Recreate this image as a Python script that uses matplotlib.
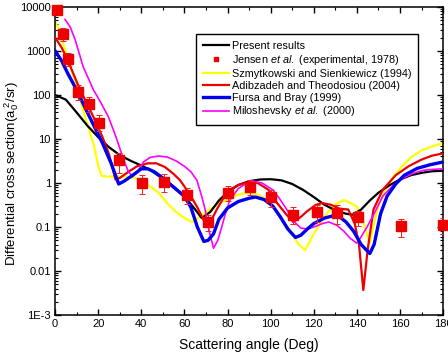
import numpy as np
import matplotlib
matplotlib.use("Agg")
import matplotlib.pyplot as plt
from matplotlib.ticker import LogLocator, NullFormatter, MultipleLocator

plt.rcParams['font.family'] = ['Liberation Sans', 'DejaVu Sans']
plt.rcParams['mathtext.fontset'] = 'custom'
plt.rcParams['mathtext.rm'] = 'Liberation Sans'
plt.rcParams['mathtext.it'] = 'Liberation Sans:italic'

######## data

# Jensen et al. (experimental, 1978)
exp_angle = [0.8, 3.6, 6.2, 10.7, 15.8, 20.4, 29.7, 40.2, 50.3, 61.1, 71.1, 80.4,
             90.5, 100.2, 110.3, 121.4, 130.7, 140.5, 160.4, 180]
exp_dcs = [8600, 2400, 650, 115, 62, 23, 3.3, 1.0, 1.07, 0.54, 0.13, 0.59,
           0.83, 0.49, 0.19, 0.22, 0.21, 0.166, 0.105, 0.11]
exp_err_lo = [0, 700, 200, 40, 20, 8, 1.6, 0.45, 0.45, 0.2, 0.05, 0.2,
              0.3, 0.2, 0.07, 0.09, 0.09, 0.06, 0.045, 0.04]
exp_err_hi = [0, 900, 250, 50, 30, 12, 1.6, 0.55, 0.5, 0.25, 0.06, 0.25,
              0.35, 0.2, 0.09, 0.1, 0.1, 0.07, 0.05, 0.05]

# Present results
present_angle = [0, 5, 10, 15, 20, 25, 30, 35, 40, 44, 50, 55, 60, 65, 68, 72, 76, 80,
                 85, 90, 95, 100, 105, 110, 115, 120, 125, 130, 135, 138, 142, 146,
                 150, 155, 160, 165, 170, 175, 180]
present_dcs = [100, 78, 40, 20, 11, 6.5, 4.3, 3.2, 2.5, 2.0, 1.25, 0.83, 0.5, 0.25,
               0.16, 0.22, 0.4, 0.62, 0.9, 1.1, 1.2, 1.22, 1.15, 0.95, 0.7, 0.48,
               0.32, 0.24, 0.2, 0.19, 0.25, 0.4, 0.6, 0.88, 1.2, 1.5, 1.7, 1.85, 1.9]

# Szmytkowski and Sienkiewicz (1994)
szmyt_angle = [0, 2.5, 5, 7, 10, 13, 16, 18, 20, 21.5, 24, 28, 33, 37, 40, 44, 48, 52,
               56, 60, 63.5, 67, 70, 75, 80, 85, 90, 94, 98, 101, 105, 109, 113, 116,
               118, 120, 123, 126, 130, 134, 137, 140, 143, 146, 148, 150, 153, 157,
               161, 165, 170, 175, 180]
szmyt_dcs = [4600, 2500, 900, 450, 160, 45, 15, 7, 2.5, 1.45, 1.4, 1.4, 1.4, 1.3,
             1.15, 0.85, 0.6, 0.35, 0.22, 0.16, 0.13, 0.17, 0.22, 0.32, 0.42, 0.55,
             0.6, 0.55, 0.42, 0.3, 0.15, 0.085, 0.04, 0.03, 0.045, 0.07, 0.12, 0.2,
             0.33, 0.41, 0.35, 0.29, 0.13, 0.043, 0.12, 0.3, 0.65, 1.4, 2.4, 3.8, 5.5,
             6.8, 8.0]

# Adibzadeh and Theodosiou (2004)
adib_angle = [0, 3, 6, 10, 14, 18, 22, 25, 28, 30, 34, 38, 43, 47, 51, 55, 58, 62, 66,
              69, 71, 73, 75, 78, 81, 85, 90, 94, 99, 103, 107, 110.5, 114, 117, 121,
              124, 128, 132, 136, 139, 141, 143, 145, 147.7, 152, 158, 164, 170, 175,
              180]
adib_dcs = [2000, 1200, 600, 200, 75, 30, 11, 4.5, 1.2, 1.3, 1.8, 2.4, 2.8, 2.8, 2.3,
            1.6, 1.15, 0.6, 0.28, 0.14, 0.12, 0.16, 0.25, 0.45, 0.7, 0.9, 1.05, 1.0,
            0.7, 0.35, 0.2, 0.13, 0.17, 0.23, 0.32, 0.35, 0.32, 0.26, 0.25, 0.12, 0.04,
            0.0037, 0.03, 0.25, 0.7, 1.5, 2.4, 3.4, 4.2, 4.7]

# Fursa and Bray (1999)
fursa_angle = [0, 3, 6, 10, 14, 18, 22, 26, 29.5, 32, 36, 40, 43, 46, 50, 55, 60, 63,
               66, 69, 71, 73.5, 76, 80, 85, 90, 93, 97, 101, 104.5, 108, 111.5, 114,
               117, 120, 125, 129, 132, 135, 138.5, 142, 146, 148, 151, 154, 158, 162,
               168, 174, 180]
fursa_dcs = [1000, 600, 300, 130, 50, 20, 8, 2.8, 0.95, 1.1, 1.5, 2.1, 2.1, 1.8, 1.3,
             0.8, 0.5, 0.28, 0.1, 0.047, 0.05, 0.07, 0.15, 0.27, 0.38, 0.45, 0.48,
             0.42, 0.3, 0.17, 0.09, 0.058, 0.065, 0.09, 0.12, 0.16, 0.18, 0.17, 0.13,
             0.08, 0.04, 0.025, 0.04, 0.2, 0.5, 0.95, 1.5, 2.15, 2.6, 3.0]

# Miloshevsky et al. (2000)
milo_angle = [4.6, 7, 9.3, 13, 17.8, 21, 24.7, 28, 31.7, 34, 36, 38.5, 41, 44, 48, 52,
              56, 60, 63, 65.8, 68, 69.6, 71.5, 73.5, 75.5, 77.3, 79, 81, 85, 89, 92,
              96, 101, 104, 107.5, 111, 114, 117, 120, 124, 127, 130.7, 134, 137, 140,
              142, 144.7, 148, 152, 157, 161.6, 166, 171, 176, 180]
milo_dcs = [5200, 3500, 1800, 440, 130, 70, 32, 12, 3.5, 1.8, 1.4, 1.9, 3.0, 3.8, 4.1,
            3.9, 3.2, 2.4, 1.8, 1.15, 0.5, 0.25, 0.08, 0.033, 0.05, 0.1, 0.2, 0.4,
            0.75, 1.0, 1.1, 1.0, 0.7, 0.45, 0.25, 0.13, 0.095, 0.09, 0.1, 0.12, 0.13,
            0.11, 0.08, 0.055, 0.043, 0.06, 0.1, 0.2, 0.5, 0.9, 1.3, 1.65, 1.95, 2.05,
            2.1]

y_ticks = [1e-3, 1e-2, 1e-1, 1, 10, 100, 1000, 10000]
y_tick_labels = ["1E-3", "0.01", "0.1", "1", "10", "100", "1000", "10000"]
x_ticks = [0, 20, 40, 60, 80, 100, 120, 140, 160, 180]

########

fig = plt.figure(figsize=(4.48, 3.63), dpi=100)
ax = fig.add_axes([0.123, 0.132, 0.866, 0.849])

ax.plot(szmyt_angle, szmyt_dcs, color="#ffff00", linewidth=1.6, zorder=2,
        label="Szmytkowski and Sienkiewicz (1994)")
ax.plot(present_angle, present_dcs, color="#000000", linewidth=1.6, zorder=3,
        label="Present results")
ax.plot(adib_angle, adib_dcs, color="#ee0000", linewidth=1.6, zorder=3,
        label="Adibzadeh and Theodosiou (2004)")
ax.plot(milo_angle, milo_dcs, color="#ff00ff", linewidth=1.2, zorder=4,
        label=r"Miloshevsky $\it{et\ al.}$ (2000)")
ax.plot(fursa_angle, fursa_dcs, color="#0000ee", linewidth=2.4, zorder=4,
        label="Fursa and Bray (1999)")

ax.errorbar(exp_angle, exp_dcs, yerr=[exp_err_lo, exp_err_hi], fmt="none",
            ecolor="#ee2222", elinewidth=0.7, capsize=2, capthick=0.7, zorder=5)
ax.plot(exp_angle, exp_dcs, "s", color="#ee0000", markersize=6.5, zorder=6,
        clip_on=False, label=r"Jensen $\it{et\ al.}$ (experimental, 1978)")

ax.set_yscale("log")
ax.set_ylim(1e-3, 1e4)
ax.set_xlim(0, 180)

ax.set_yticks(y_ticks)
ax.set_yticklabels(y_tick_labels)
ax.yaxis.set_minor_locator(LogLocator(base=10, subs=np.arange(2, 10), numticks=50))
ax.yaxis.set_minor_formatter(NullFormatter())
ax.set_xticks(x_ticks)
ax.xaxis.set_minor_locator(MultipleLocator(10))

ax.tick_params(which="both", direction="in", top=True, right=True,
               labelsize=8, colors="#000000", pad=3)
ax.tick_params(which="major", length=4, width=1)
ax.tick_params(which="minor", length=2.5, width=0.8)
for s in ax.spines.values():
    s.set_linewidth(1.1)

ax.set_xlabel("Scattering angle (Deg)", fontsize=10, labelpad=6)
ax.set_ylabel(r"Differential cross section(a$_0^{\ 2}$/sr)", fontsize=9.5)
ax.yaxis.set_label_coords(-0.087, 0.46)

handles, labels = ax.get_legend_handles_labels()
order = [1, 5, 0, 2, 4, 3]
leg = ax.legend([handles[i] for i in order], [labels[i] for i in order],
                loc="upper left", bbox_to_anchor=(0.363, 0.912), borderaxespad=0,
                fontsize=7.8, frameon=True, fancybox=False, edgecolor="#000000",
                framealpha=1, handlelength=2.4, handletextpad=0.3,
                labelspacing=0.18, markerscale=0.45, borderpad=0.62)
leg.get_frame().set_linewidth(1.0)

plt.savefig("out.png", dpi=100)
